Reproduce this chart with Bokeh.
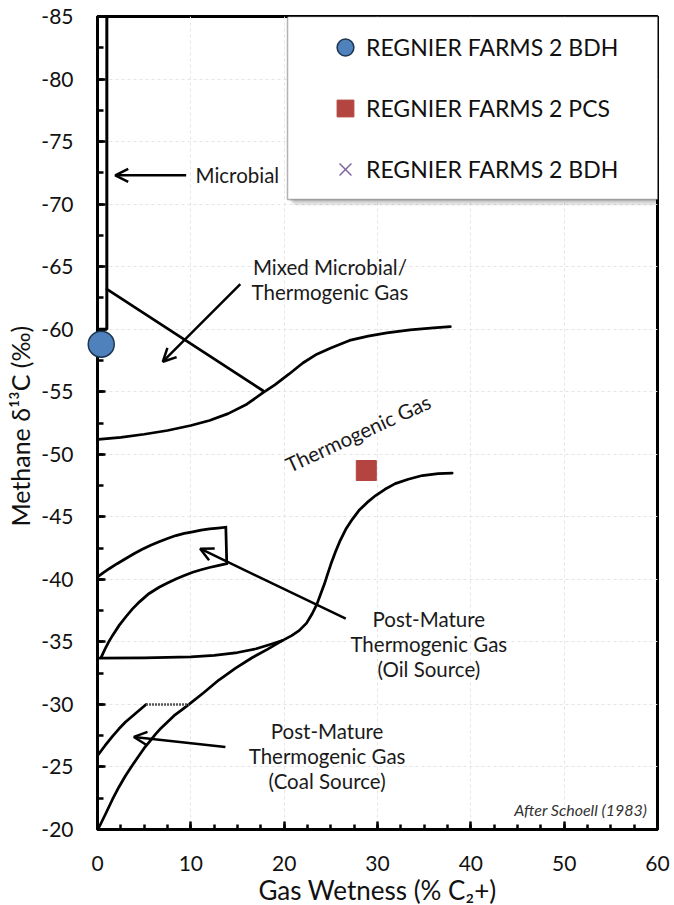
from bokeh.plotting import figure
from bokeh.models import (Range1d, SingleIntervalTicker, Label, Arrow, OpenHead,
                          Legend, LegendItem, BoxAnnotation)
from bokeh.embed import file_html
from bokeh.resources import INLINE

# ---------------- data ----------------
# Schoell (1983) field boundaries (Gas wetness %, methane d13C permil)
microbial_x = [0, 0, 1, 1]
microbial_y = [-85, -60, -60, -85]

mixed_x = [1.0, 17.7]
mixed_y = [-63.2, -55.1]

thermo_upper_x = [0.1, 2.5, 5, 7.5, 10, 12, 14, 16, 17.7, 19, 20.5, 22, 23.5, 25, 27, 29,
                  31, 33.5, 36, 37.8]
thermo_upper_y = [-51.2, -51.35, -51.6, -51.9, -52.3, -52.7, -53.25, -54.0, -54.9, -55.55,
                  -56.4, -57.3, -58.0, -58.5, -59.1, -59.45, -59.7, -59.95, -60.1, -60.2]

thermo_lower_x = [0.1, 5, 10, 12.5, 15, 17, 18.75, 19.8, 20.8, 21.6, 22.4, 23.0, 23.5, 23.9,
                  24.3, 24.6, 25.0, 25.5, 26.0, 26.6, 27.3, 28.0, 28.9, 29.8, 30.8, 31.9,
                  33.3, 34.8, 36.5, 38.0]
thermo_lower_y = [-33.7, -33.72, -33.8, -33.92, -34.15, -34.45, -34.85, -35.1, -35.5, -35.9,
                  -36.5, -37.25, -38.0, -38.8, -39.6, -40.3, -41.2, -42.2, -43.1, -44.0,
                  -44.8, -45.5, -46.15, -46.7, -47.2, -47.65, -48.0, -48.3, -48.45, -48.5]

oil_x = [0.0, 0.6, 1.25, 2.1, 3.0, 3.9, 4.8, 5.7, 6.6, 7.5, 8.4, 9.3, 10.2, 11.1, 12.0, 12.9,
         13.75, 13.85, 12.9, 12.0, 11.1, 10.2, 9.3, 8.4, 7.5, 6.6, 5.5, 4.5, 3.7, 3.0, 2.3,
         1.6, 1.2, 0.9, 0.6, 0.36]
oil_y = [-40.2, -40.52, -40.85, -41.25, -41.65, -42.05, -42.4, -42.72, -43.0, -43.27, -43.5,
         -43.67, -43.8, -43.93, -44.03, -44.1, -44.17, -41.25, -41.1, -40.95, -40.77, -40.57,
         -40.3, -40.02, -39.7, -39.37, -38.85, -38.2, -37.6, -36.97, -36.3, -35.5, -35.0,
         -34.57, -34.1, -33.7]

coal_curve_x = [0.18, 0.9, 1.6, 2.3, 3.0, 3.7, 4.4, 5.0, 5.6, 6.2, 6.8, 7.5, 8.2, 9.0, 9.8,
                11.4, 13.0, 14.8, 16.6, 18.2, 19.8]
coal_curve_y = [-20.2, -21.3, -22.4, -23.4, -24.3, -25.1, -25.85, -26.5, -27.05, -27.6,
                -28.1, -28.6, -29.1, -29.55, -30.0, -30.95, -31.95, -32.9, -33.75, -34.4,
                -35.1]

coal_box_x = [0.0, 0.8, 1.6, 2.3, 3.0, 4.1, 5.2]
coal_box_y = [-25.9, -26.7, -27.45, -28.05, -28.6, -29.3, -30.0]
coal_top_x = [5.2, 9.8]
coal_top_y = [-30.0, -30.0]

# samples
bdh_x = [0.4]
bdh_y = [-58.8]
pcs_x = [28.8]
pcs_y = [-48.7]
bdh2_x = [float("nan")]
bdh2_y = [float("nan")]

series_labels = ["REGNIER FARMS 2 BDH", "REGNIER FARMS 2 PCS", "REGNIER FARMS 2 BDH"]
y_ticks = list(range(-85, -19, 5))

FONT = "Lato"

p = figure(width=674, height=900, output_backend="svg", toolbar_location=None,
           x_range=Range1d(0, 60), y_range=Range1d(-20, -85),
           min_border_left=97, min_border_right=17, min_border_top=16, min_border_bottom=71,
           background_fill_color="white", border_fill_color="white")
p.frame_width = 560
p.frame_height = 813
p.outline_line_color = "black"
p.outline_line_width = 3

p.xaxis.ticker = SingleIntervalTicker(interval=10, num_minor_ticks=4)
p.yaxis.ticker = SingleIntervalTicker(interval=5, num_minor_ticks=2)
p.yaxis.major_label_overrides = {v: str(v) for v in y_ticks}

for ax in (p.xaxis[0], p.yaxis[0]):
    ax.axis_line_width = 3
    ax.axis_line_color = "black"
    ax.major_tick_in = 8
    ax.major_tick_out = 0
    ax.minor_tick_out = 0
    ax.major_tick_line_width = 2.5
    ax.minor_tick_line_width = 2.5
    ax.major_tick_line_color = "black"
    ax.minor_tick_line_color = "black"
    ax.major_label_text_font = FONT
    ax.major_label_text_font_size = "21px"
    ax.major_label_text_color = "#111111"
    ax.axis_label_text_font = FONT
    ax.axis_label_text_font_style = "normal"
    ax.axis_label_text_color = "#111111"

p.xaxis.axis_label_text_font_size = "26px"
p.yaxis.axis_label_text_font_size = "25px"
p.xaxis.minor_tick_in = 5
p.yaxis.minor_tick_in = 6
p.xaxis.major_label_standoff = 26
p.yaxis.major_label_standoff = 24
p.xaxis.axis_label = "Gas Wetness (% C\u2082+)"
p.yaxis.axis_label = "Methane  \u03b4\u00b9\u00b3C (\u2030)"
p.xaxis.axis_label_standoff = 0
p.yaxis.axis_label_standoff = 3

for g in (p.xgrid[0], p.ygrid[0]):
    g.grid_line_color = "#e4e4e4"
    g.grid_line_dash = "3 3"
    g.grid_line_width = 1

LW = 2.75
common = dict(line_color="black", line_width=LW, line_join="round", line_cap="round")
p.line(microbial_x, microbial_y, line_color="black", line_width=3)
p.line(mixed_x, mixed_y, **common)
p.line(thermo_upper_x, thermo_upper_y, **common)
p.line(thermo_lower_x, thermo_lower_y, **common)
p.line(oil_x, oil_y, line_color="black", line_width=LW, line_join="miter")
p.line(coal_curve_x, coal_curve_y, **common)
p.line(coal_box_x, coal_box_y, **common)
p.line(coal_top_x, coal_top_y, line_color="#555555", line_width=2.5, line_dash="2 1")

r_bdh = p.scatter(bdh_x, bdh_y, marker="circle", size=26, fill_color="#4F81BD",
                  line_color="#1e3550", line_width=1.5)
r_bdh.level = "overlay"
r_pcs = p.scatter(pcs_x, pcs_y, marker="square", size=20, fill_color="#B3443F",
                  line_color="#B3443F", line_width=1)
r_bdh2 = p.scatter(bdh2_x, bdh2_y, marker="x", size=16, line_color="#8064A2", line_width=1.5)

# annotations
def lab(x, y, t, size="20.5px", align="center", angle=0.0, style="normal", color="#1a1a1a"):
    p.add_layout(Label(x=x, y=y, text=t, text_font=FONT, text_font_size=size,
                       text_align=align, text_baseline="middle", angle=angle,
                       text_font_style=style, text_color=color))

def arrow(x0, y0, x1, y1):
    p.add_layout(Arrow(end=OpenHead(size=13, line_width=2.5, line_color="black"),
                       x_start=x0, y_start=y0, x_end=x1, y_end=y1,
                       line_width=2.5, line_color="black"))

lab(10.5, -72.3, "Microbial", align="left")
arrow(9.5, -72.3, 1.9, -72.3)

lab(24.9, -64.95, "Mixed Microbial/")
lab(24.9, -62.95, "Thermogenic Gas")
arrow(15.3, -63.6, 7.0, -57.4)

lab(27.9, -51.7, "Thermogenic Gas", angle=0.43)

lab(35.5, -36.85, "Post-Mature")
lab(35.5, -34.85, "Thermogenic Gas")
lab(35.5, -32.85, "(Oil Source)")
arrow(26.6, -36.85, 11.0, -42.45)

lab(24.6, -27.9, "Post-Mature")
lab(24.6, -25.9, "Thermogenic Gas")
lab(24.6, -23.9, "(Coal Source)")
arrow(13.7, -26.6, 3.9, -27.4)

lab(58.9, -21.6, "After Schoell (1983)", size="16px", align="right", style="italic",
    color="#333333")

# legend frame with soft shadow
box = dict(left_units="canvas", right_units="canvas", top_units="canvas", bottom_units="canvas")
for off, a in ((2, 0.10), (4, 0.09), (6, 0.07)):
    p.add_layout(BoxAnnotation(left=287 + off, right=665 + off, top=16 + off, bottom=199 + off,
                               fill_color="black", fill_alpha=a, line_color=None, **box))
p.add_layout(BoxAnnotation(left=287, right=665, top=16, bottom=199, fill_color="white",
                           fill_alpha=1.0, line_color="black", line_width=1.5, **box))

legend = Legend(items=[LegendItem(label=series_labels[0], renderers=[r_bdh]),
                       LegendItem(label=series_labels[1], renderers=[r_pcs]),
                       LegendItem(label=series_labels[2], renderers=[r_bdh2])],
                location=(227, 639), orientation="vertical",
                glyph_width=42, glyph_height=42, label_standoff=0, spacing=19,
                padding=0, margin=0,
                label_text_font=FONT, label_text_font_size="23px", label_text_color="#111111",
                border_line_color=None, background_fill_alpha=0.0)
p.add_layout(legend, "center")

open("out.html", "w").write(file_html(p, INLINE))
